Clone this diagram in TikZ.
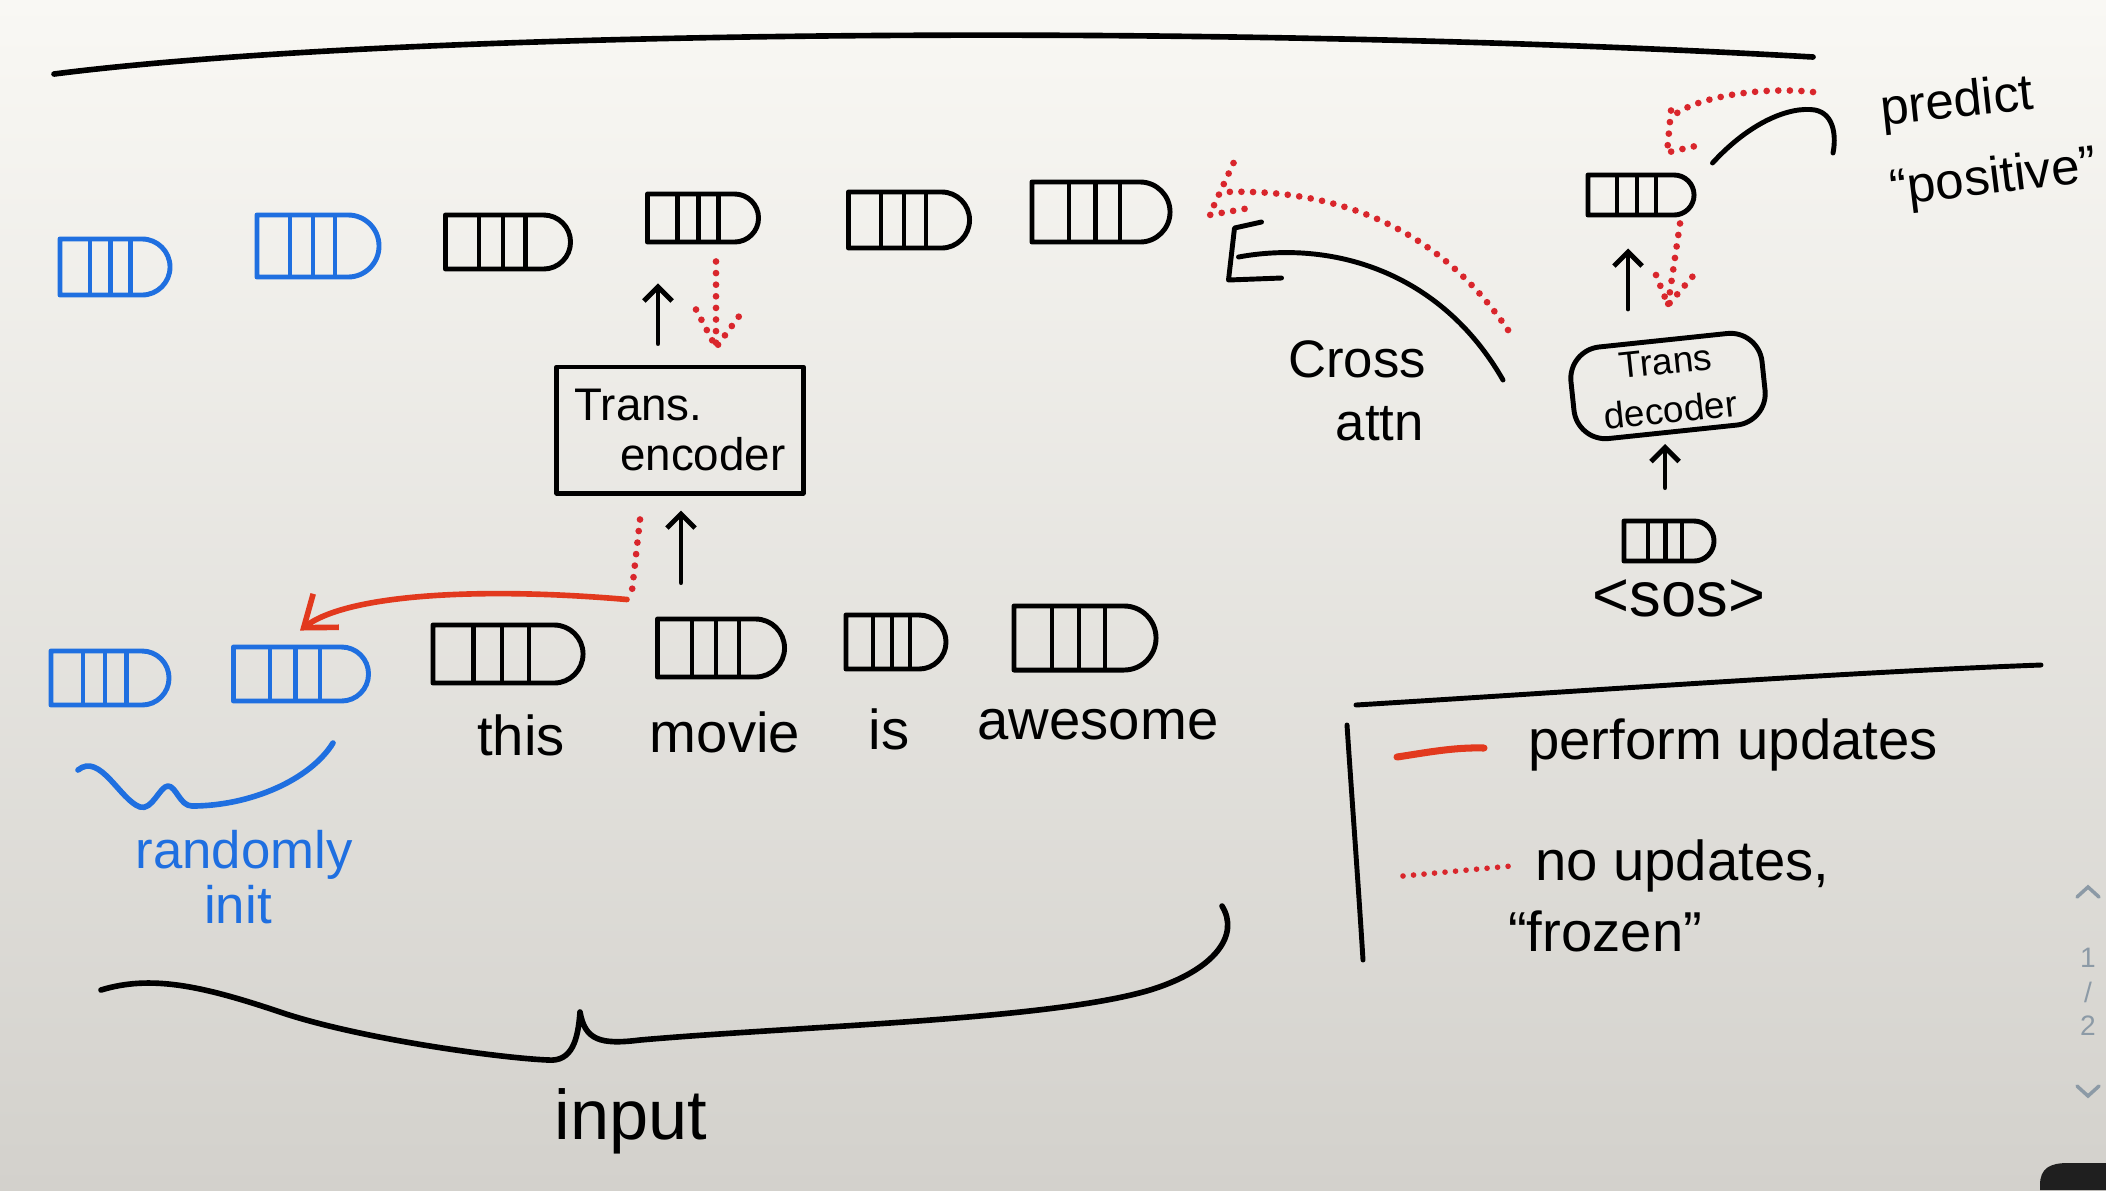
\documentclass[tikz,border=0pt]{standalone}
\usepackage{fontspec}
\setmainfont{Liberation Sans}
\usetikzlibrary{shapes.misc,arrows.meta,calc}
\definecolor{penblue}{HTML}{1F6FE0}
\definecolor{penred}{HTML}{E2391E}
\definecolor{dotred}{HTML}{D9262C}
\definecolor{paper}{HTML}{F9F8F4}
\definecolor{papermid}{HTML}{EFEEEA}
\definecolor{papergray}{HTML}{D3D1CC}
\definecolor{uigray}{HTML}{8C9AA6}
\def\tokc{black}
\tikzset{
  pen/.style={line width=1.4pt, line cap=round, line join=round},
  tokcolor/.code={\def\tokc{#1}},
  tok/.style={pen, draw=black, rounded rectangle, rounded rectangle left arc=none,
    inner sep=0pt, minimum height=0.54cm,
    path picture={\foreach \fr in {0.27,0.46,0.64}{\draw[line width=1.2pt,color=\tokc]
      ($(path picture bounding box.south west)!\fr!(path picture bounding box.south east)$) --
      ($(path picture bounding box.north west)!\fr!(path picture bounding box.north east)$);}}},
  btok/.style={tok, draw=penblue, tokcolor=penblue},
  arr/.style={pen, -{Straight Barb[length=4pt,width=8pt,line width=1.4pt]}},
  dots/.style={dotred, line width=1.9pt, line cap=round, dash pattern=on 0pt off 3.3pt},
  hand/.style={font=\fontsize{16}{19}\selectfont, inner sep=1pt},
}
\begin{document}
\begin{tikzpicture}[x=0.01cm,y=-0.01cm]
\useasboundingbox (0,0) rectangle (2106,1190);
\shade[top color=paper, middle color=papermid, bottom color=papergray] (0,0) rectangle (2106,1190);

% top line
\draw[pen, line width=1.6pt] (54,74) .. controls (400,30) and (1200,22) .. (1813,57);

% top row tokens
\node[btok, minimum width=1.10cm, minimum height=0.56cm] (u1) at (115,267) {};
\node[btok, minimum width=1.22cm, minimum height=0.62cm] (u2) at (318,246) {};
\node[tok, minimum width=1.25cm] (u3) at (508,242) {};
\node[tok, minimum width=1.11cm, minimum height=0.48cm] (u4) at (703,218) {};
\node[tok, minimum width=1.21cm, minimum height=0.56cm] (u5) at (909,220) {};
\node[tok, minimum width=1.38cm, minimum height=0.60cm] (u6) at (1101,212) {};
\node[tok, minimum width=1.06cm, minimum height=0.40cm] (uo) at (1641,195) {};

% bottom row tokens
\node[btok, minimum width=1.18cm] (b1) at (110,678) {};
\node[btok, minimum width=1.35cm] (b2) at (301,674) {};
\node[tok, minimum width=1.50cm, minimum height=0.58cm] (b3) at (508,654) {};
\node[tok, minimum width=1.27cm, minimum height=0.58cm] (b4) at (721,648) {};
\node[tok, minimum width=1.00cm] (b5) at (896,642) {};
\node[tok, minimum width=1.42cm, minimum height=0.64cm] (b6) at (1085,638) {};
\node[tok, minimum width=0.90cm, minimum height=0.40cm] (sos) at (1669,541) {};

% words
\node[hand] (w1) at (521,735) {this};
\node[hand] (w2) at (725,732) {movie};
\node[hand] (w3) at (889,729) {is};
\node[hand] (w4) at (1098,725) {awesome};
\node[hand, font=\fontsize{18}{20}\selectfont] (wsos) at (1679,598) {<sos>};

% encoder
\node[pen, draw, minimum width=2.46cm, minimum height=1.26cm, align=left,
      font=\fontsize{13}{14}\selectfont] (enc) at (680,430) {Trans.\\\hspace*{1em}encoder};

% decoder
\node[pen, draw, rounded corners=9pt, rotate=6, minimum width=1.92cm, minimum height=0.92cm,
      inner sep=1.5pt, align=center, font=\fontsize{10.5}{14}\selectfont] (dec) at (1668,386) {Trans\\decoder};

% encoder arrows
\draw[arr] ($(enc.north)+(-22,-21)$) -- ($(u4.south)+(-45,39)$);
\coordinate (h1) at ($(enc.north)+(36,-17)$);
\draw[dots] ($(u4.south)+(13,17)$) -- (h1);
\draw[dots] (h1) ++(-20,-38) -- (h1) -- ++(28,-38);
\draw[arr] ($(b4.north)+(-40,-34)$) -- ($(enc.south)+(1,15)$);
\draw[dots] ($(enc.south)+(-40,24)$) -- ($(enc.south)+(-48,95)$);
\draw[pen, penred, line width=1.6pt, -{Straight Barb[length=8pt,width=12pt,line width=1.6pt]}]
  ($(enc.south)+(-53,104)$) .. controls (470,586) and (345,596) .. ($(b2.north)+(-1,-14)$);

% decoder arrows
\draw[arr] ($(sos.north)+(-4,-31)$) -- ($(dec.center)+(-3,58)$);
\draw[arr] ($(dec.center)+(-40,-77)$) -- ($(uo.south)+(-13,31)$);
\coordinate (h2) at ($(dec.center)+(0,-81)$);
\draw[dots] ($(uo.south)+(39,6)$) -- (h2);
\draw[dots] (h2) ++(-12,-30) -- (h2) -- ++(31,-36);

% cross attention
\coordinate (ca) at ($(u6.east)+(66,45)$);
\draw[pen] ($(dec.center)+(-165,-6)$) .. controls (1440,270) and (1330,240) .. (ca);
\draw[pen] (ca) ++(23,-35) -- ++(-27,6) -- ++(-6,52) -- ++(53,-2);
\coordinate (ce) at ($(u6.east)+(51,-20)$);
\draw[dots] ($(dec.center)+(-160,-56)$) .. controls (1440,230) and (1340,188) .. (ce);
\draw[dots] ($(ce)+(10,-29)$) -- ($(ce)+(-14,23)$) -- ($(ce)+(26,16)$);
\node[hand, font=\fontsize{15}{18}\selectfont, align=left, anchor=west] (xattn) at (1284,391) {Cross\\\hspace*{0.9em}attn};

% predict
\node[hand, font=\fontsize{14.5}{17}\selectfont, rotate=6] (pred) at (1957,104) {predict};
\node[hand, font=\fontsize{14.5}{17}\selectfont, rotate=7] (pos) at (1994,180) {“positive”};
\draw[pen] ($(uo.east)+(16,-32)$) .. controls (1750,122) and (1790,106) .. (1815,110)
  .. controls (1835,114) and (1836,138) .. (1833,153);
\coordinate (h3) at ($(uo.north)+(26,-20)$);
\draw[dots] (1813,92) .. controls (1760,86) and (1690,98) .. (1671,118);
\draw[dots] (h3) ++(4,-42) -- (h3) -- ++(35,-8);

% randomly init
\draw[pen, penblue, line width=1.6pt] (78,770) .. controls (100,752) and (120,800) .. (140,807)
  .. controls (152,811) and (160,786) .. (168,786) .. controls (176,786) and (180,806) .. (192,806)
  .. controls (250,806) and (310,780) .. (333,743);
\node[hand, penblue, font=\fontsize{15}{18}\selectfont] (rnd) at (244,855) {randomly};
\node[hand, penblue, font=\fontsize{15}{18}\selectfont] (init) at (238,905) {init};

% input brace
\draw[pen, line width=1.6pt] (101,990) .. controls (150,975) and (200,985) .. (280,1012)
  .. controls (360,1039) and (500,1058) .. (548,1060) .. controls (572,1062) and (578,1040) .. (580,1012)
  .. controls (585,1040) and (600,1045) .. (640,1040)
  .. controls (800,1026) and (1050,1020) .. (1150,990)
  .. controls (1215,970) and (1240,935) .. (1222,906);
\node[hand, font=\fontsize{20}{22}\selectfont] (inp) at (631,1121) {input};

% legend
\draw[pen] (1356,705) .. controls (1600,690) and (1850,672) .. (2041,665);
\draw[pen] (1347,725) .. controls (1352,800) and (1358,880) .. (1363,960);
\node[hand, anchor=west] (l1) at (1524,745) {perform updates};
\draw[pen, penred, line width=2pt] ($(l1.west)+(-127,12)$) .. controls ($(l1.west)+(-100,8)$) and ($(l1.west)+(-70,2)$) .. ($(l1.west)+(-40,3)$);
\node[hand, anchor=west] (l2) at (1531,866) {no updates,};
\draw[dots, dash pattern=on 0pt off 3pt, line width=1.6pt] ($(l2.west)+(-128,10)$) -- ($(l2.west)+(-20,0)$);
\node[hand, anchor=west] (l3) at (1504,931) {“frozen”};

% page indicator
\draw[uigray, line width=1pt, line cap=round] (2077,897) -- (2088,887) -- (2099,897);
\node[uigray, font=\fontsize{8}{9}\selectfont, inner sep=0pt] (pg1) at (2088,958) {1};
\node[uigray, font=\fontsize{8}{9}\selectfont, inner sep=0pt] (pgs) at (2088,992) {/};
\node[uigray, font=\fontsize{8}{9}\selectfont, inner sep=0pt] (pg2) at (2088,1026) {2};
\draw[uigray, line width=1pt, line cap=round] (2077,1086) -- (2088,1096) -- (2099,1086);
\fill[black!88] (2040,1190) -- (2040,1185) .. controls (2040,1168) and (2050,1163) .. (2068,1163) -- (2106,1163) -- (2106,1190) -- cycle;
\end{tikzpicture}
\end{document}
